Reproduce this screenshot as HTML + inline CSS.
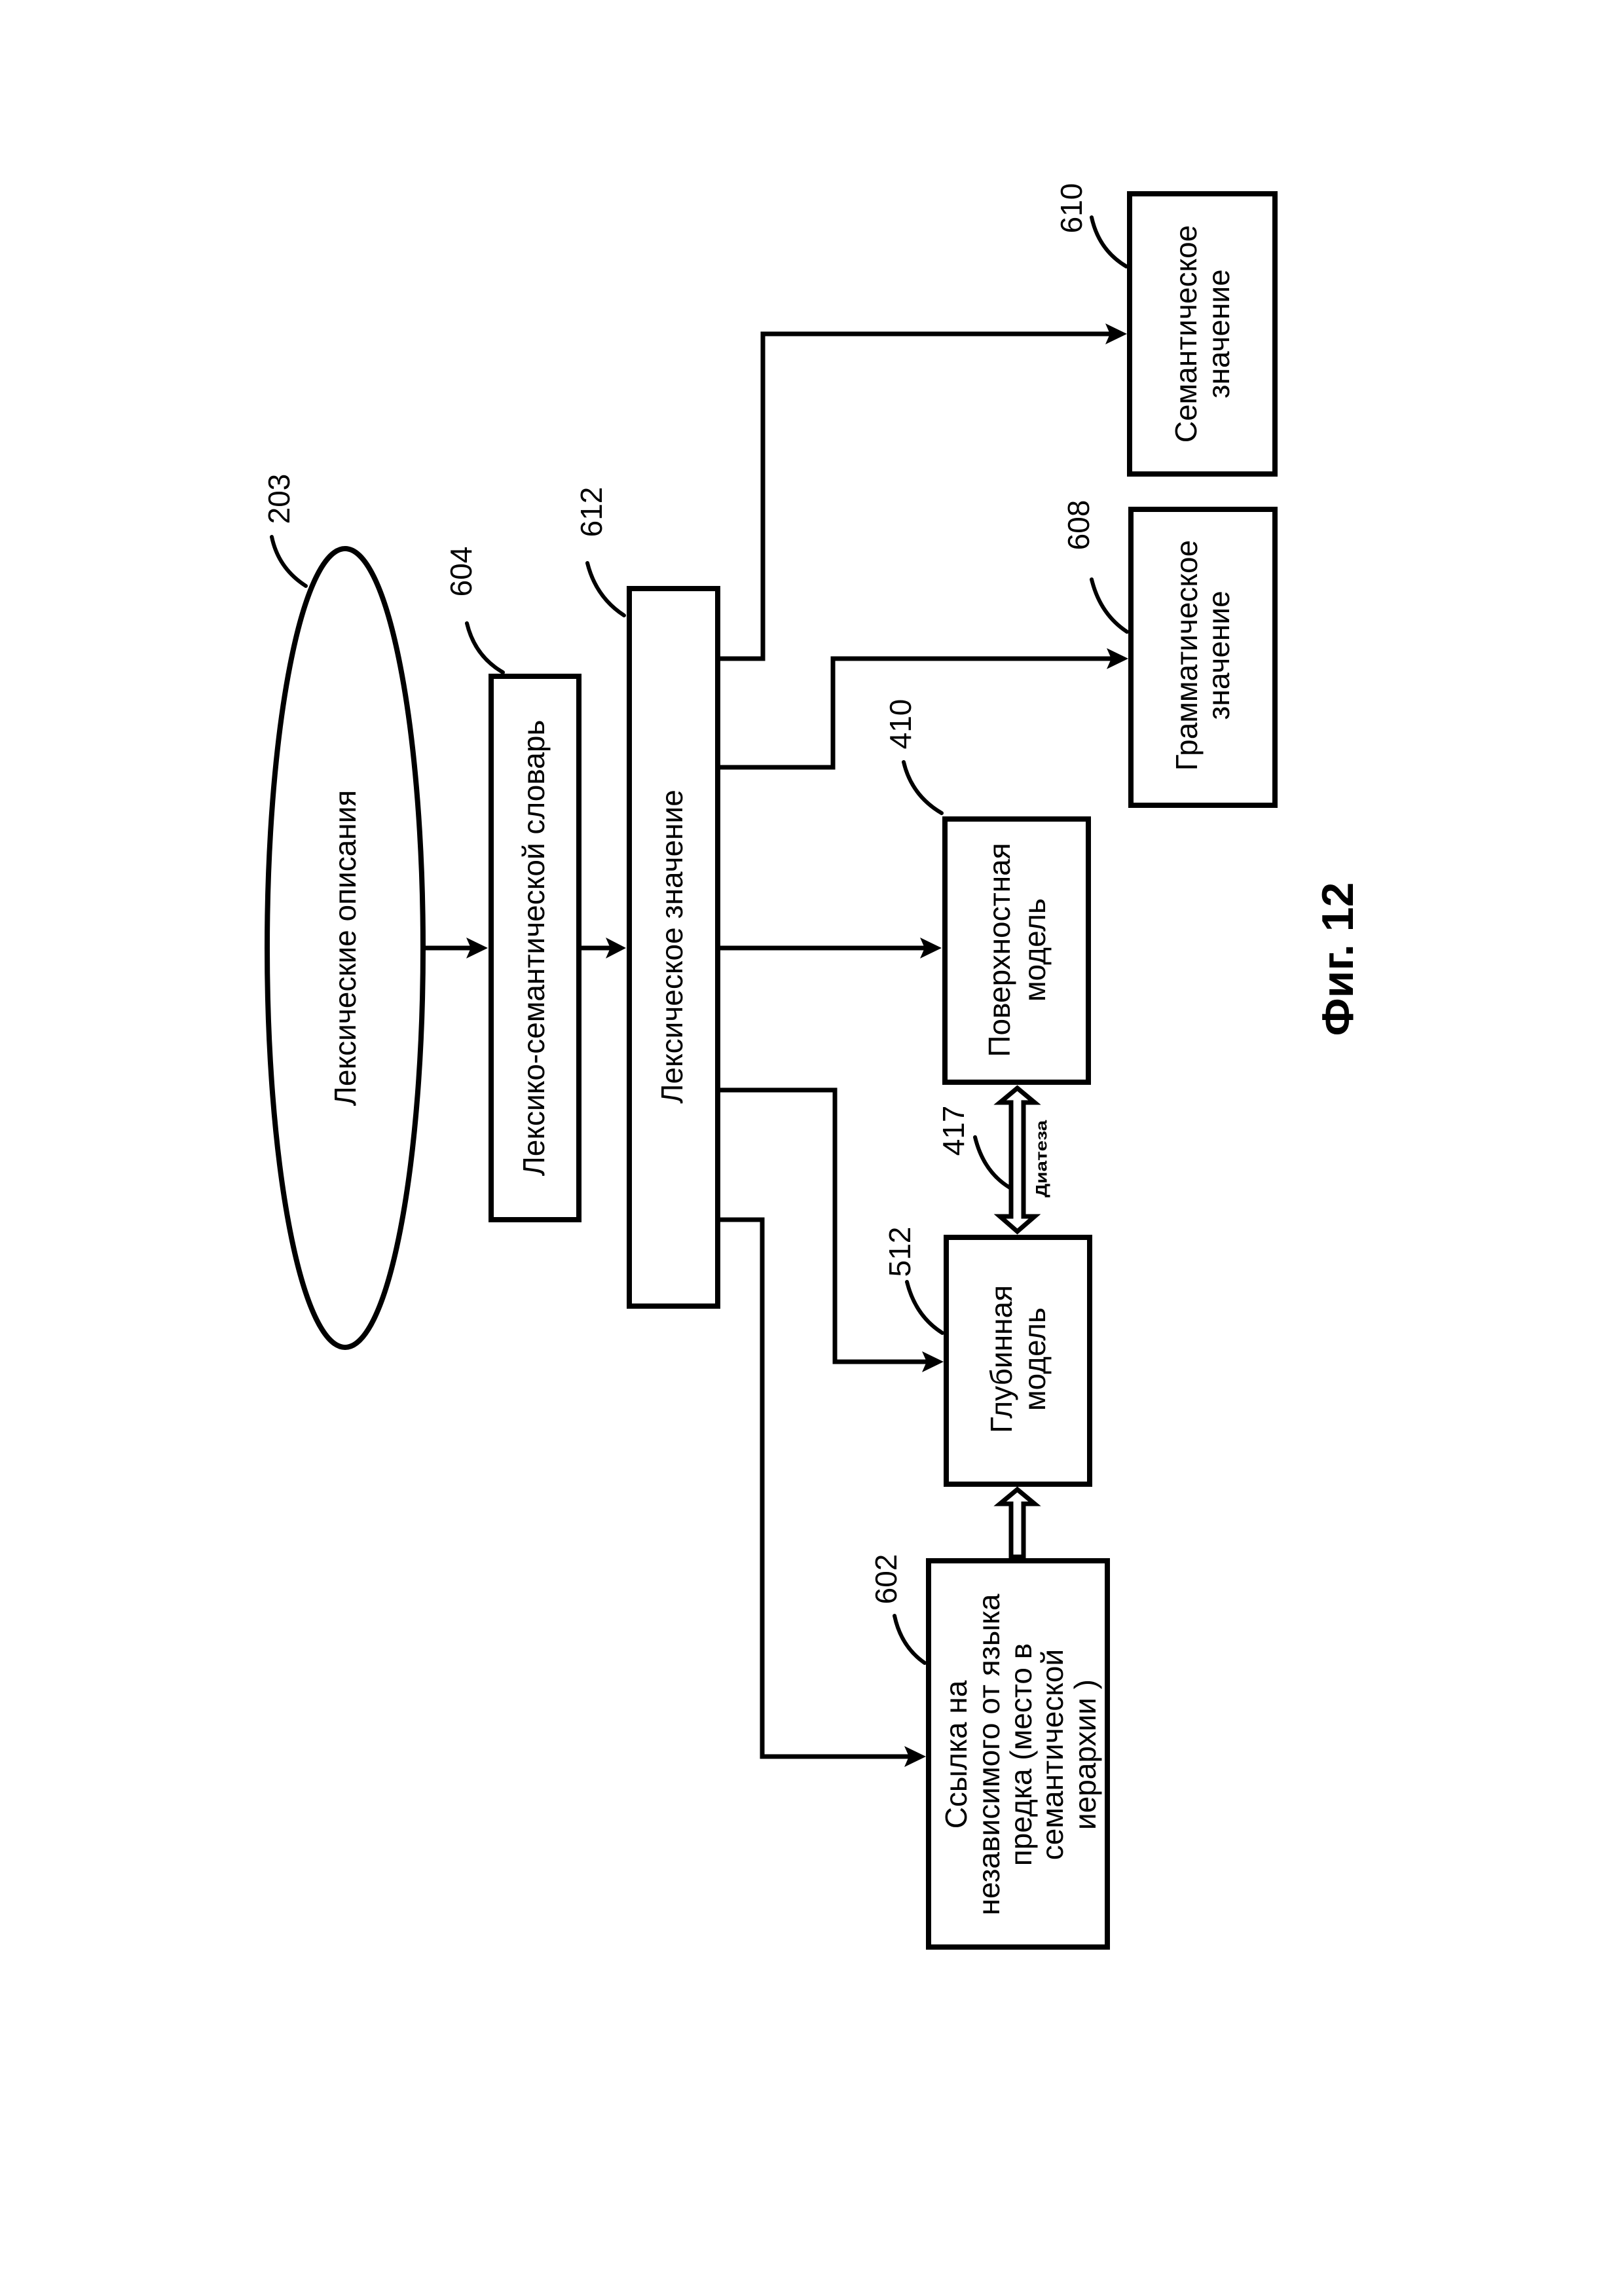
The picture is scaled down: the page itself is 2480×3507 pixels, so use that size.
<!DOCTYPE html>
<html><head><meta charset="utf-8"><style>
html,body{margin:0;padding:0;background:#fff}
svg{display:block}
text{font-family:"Liberation Sans",Arial,sans-serif;fill:#000}
</style></head><body>
<svg width="2480" height="3507" viewBox="0 0 2480 3507" xmlns="http://www.w3.org/2000/svg">
<rect width="2480" height="3507" fill="#fff"/>
<g fill="none" stroke="#000" stroke-width="8">
<ellipse cx="527" cy="1448" rx="119" ry="610"/>
<rect x="750" y="1033" width="134" height="830"/>
<rect x="961" y="899" width="135" height="1096"/>
<rect x="1443" y="1251" width="219" height="402"/>
<rect x="1445" y="1890" width="219" height="377"/>
<rect x="1418" y="2384" width="273" height="590"/>
<rect x="1725" y="296" width="222" height="428"/>
<rect x="1727" y="778" width="220" height="452"/>
</g>
<g fill="none" stroke="#000" stroke-width="7" stroke-linejoin="miter">
<path d="M646 1448 H720"/>
<path d="M888 1448 H935"/>
<path d="M1100 1448 H1415"/>
<path d="M1100 1006 H1165 V510 H1697"/>
<path d="M1100 1172 H1272 V1006 H1699"/>
<path d="M1100 1665 H1275 V2080 H1417"/>
<path d="M1100 1863 H1164 V2683 H1390"/>
</g>
<g fill="#000">
<polygon points="745,1448 712,1432 719,1448 712,1464"/>
<polygon points="956,1448 925,1432 932,1448 925,1464"/>
<polygon points="1438,1448 1405,1432 1412,1448 1405,1464"/>
<polygon points="1721,510 1688,494 1695,510 1688,526"/>
<polygon points="1723,1006 1690,990 1697,1006 1690,1022"/>
<polygon points="1441,2080 1408,2064 1415,2080 1408,2096"/>
<polygon points="1414,2683 1381,2667 1388,2683 1381,2699"/>
</g>
<!-- double hollow arrows -->
<g fill="#fff" stroke="#000" stroke-width="7" stroke-linejoin="miter">
<path d="M1553.5 1662 L1580 1684 L1563 1684 L1563 1858 L1580 1858 L1553.5 1881 L1527 1858 L1544 1858 L1544 1684 L1527 1684 Z"/>
<path d="M1553.5 2275 L1580 2297 L1563 2297 L1563 2378 L1544 2378 L1544 2297 L1527 2297 Z"/>
</g>
<!-- leader curves -->
<g fill="none" stroke="#000" stroke-width="6" stroke-linecap="round">
<path d="M415 820 Q425 868 467 895"/>
<path d="M713 952 Q725 1002 768 1027"/>
<path d="M897 860 Q910 912 953 940"/>
<path d="M1380 1164 Q1392 1215 1438 1242"/>
<path d="M1667 332 Q1678 382 1720 407"/>
<path d="M1667 885 Q1680 938 1721 965"/>
<path d="M1489 1737 Q1502 1790 1542 1814"/>
<path d="M1385 1958 Q1398 2010 1439 2036"/>
<path d="M1366 2468 Q1376 2515 1412 2540"/>
</g>
<g font-size="46" text-anchor="middle" dominant-baseline="central">
<text transform="translate(426,762) rotate(-90)">203</text>
<text transform="translate(704,873) rotate(-90)">604</text>
<text transform="translate(903,782) rotate(-90)">612</text>
<text transform="translate(1375,1106) rotate(-90)">410</text>
<text transform="translate(1636,318) rotate(-90)">610</text>
<text transform="translate(1647,802) rotate(-90)">608</text>
<text transform="translate(1456,1727) rotate(-90)">417</text>
<text transform="translate(1374,1912) rotate(-90)">512</text>
<text transform="translate(1353,2412) rotate(-90)">602</text>
<text transform="translate(527,1448) rotate(-90)">Лексические описания</text>
<text transform="translate(815,1448) rotate(-90)">Лексико-семантической словарь</text>
<text transform="translate(1026,1446) rotate(-90)">Лексическое значение</text>
<text transform="translate(1526,1451) rotate(-90)">Поверхностная</text>
<text transform="translate(1580,1451) rotate(-90)">модель</text>
<text transform="translate(1529,2076) rotate(-90)">Глубинная</text>
<text transform="translate(1580,2076) rotate(-90)">модель</text>
<text transform="translate(1811,510) rotate(-90)">Семантическое</text>
<text transform="translate(1861,510) rotate(-90)">значение</text>
<text transform="translate(1812,1001) rotate(-90)">Грамматическое</text>
<text transform="translate(1861,1001) rotate(-90)">значение</text>
<text transform="translate(1460,2680) rotate(-90)">Ссылка на</text>
<text transform="translate(1510,2680) rotate(-90)">независимого от языка</text>
<text transform="translate(1559,2680) rotate(-90)">предка (место в</text>
<text transform="translate(1607,2680) rotate(-90)">семантической</text>
<text transform="translate(1657,2680) rotate(-90)">иерархии )</text>
</g>
<text transform="translate(1591,1770) rotate(-90)" font-size="24" font-weight="bold" text-anchor="middle" dominant-baseline="central" textLength="118" lengthAdjust="spacingAndGlyphs">Диатеза</text>
<text transform="translate(2043,1465) rotate(-90)" font-size="68" font-weight="bold" text-anchor="middle" dominant-baseline="central">Фиг. 12</text>
</svg>
</body></html>
